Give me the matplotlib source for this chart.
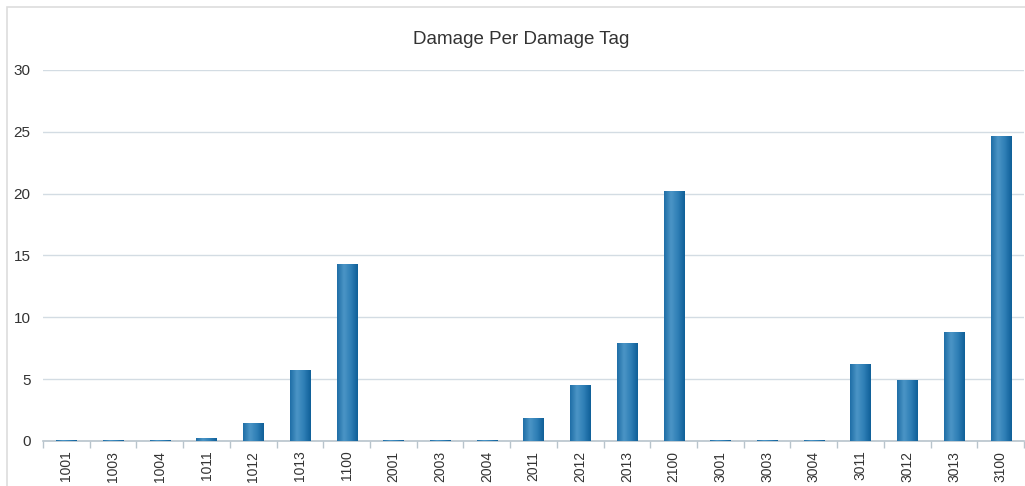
import numpy as np
import matplotlib.pyplot as plt
from matplotlib.patches import Rectangle
from matplotlib.colors import LinearSegmentedColormap

plt.rcParams['font.family'] = ['Liberation Sans', 'DejaVu Sans']

# Data
tags = ['1001', '1003', '1004', '1011', '1012', '1013', '1100', '2001', '2003', '2004',
        '2011', '2012', '2013', '2100', '3001', '3003', '3004', '3011', '3012', '3013', '3100']
damage = [0.05, 0.05, 0.05, 0.2, 1.4, 5.7, 14.3, 0.05, 0.05, 0.05,
          1.8, 4.5, 7.9, 20.2, 0.05, 0.05, 0.05, 6.2, 4.9, 8.8, 24.6]

fig = plt.figure(figsize=(10.25, 4.86), dpi=100)
ax = fig.add_axes([0.042, 0.0926, 0.957, 0.7634])

# outer border
fig.patches.append(Rectangle((0.007, -0.01), 1.0, 1.0 - 0.004, transform=fig.transFigure,
                             fill=False, edgecolor='#dddddd', linewidth=1.2))

x = np.arange(len(tags))
bars = ax.bar(x, damage, width=0.43, color='#2a7ab0', edgecolor='none', zorder=2)

# cylinder-like horizontal gradient on each bar
cmap = LinearSegmentedColormap.from_list('cyl', ['#1f6ea6', '#4b95c6', '#2f7fb6', '#0f5f98'])
grad = np.linspace(0, 1, 64).reshape(1, -1)
for b in bars:
    x0, y0 = b.get_x(), b.get_y()
    w, h = b.get_width(), b.get_height()
    ax.imshow(grad, cmap=cmap, aspect='auto', extent=(x0, x0 + w, y0, y0 + h),
              zorder=3, interpolation='bicubic')

ax.set_xlim(-0.5, len(tags) - 0.5)
ax.set_ylim(0, 30)
ax.set_yticks(range(0, 31, 5))
ax.set_xticks(x)
ax.set_xticklabels(tags, rotation=90, fontsize=10, color='#333333')
ax.set_xticks(np.arange(-0.5, len(tags), 1), minor=True)
ax.tick_params(axis='x', which='major', length=0, pad=7)
ax.tick_params(axis='x', which='minor', length=5, color='#b8c4cc', width=1)
ax.tick_params(axis='y', length=0, labelsize=11, labelcolor='#333333', pad=9)

ax.grid(axis='y', color='#d3dce3', linewidth=1, zorder=0)
ax.set_axisbelow(True)
for s in ['top', 'right', 'left']:
    ax.spines[s].set_visible(False)
ax.spines['bottom'].set_color('#b8c4cc')
ax.spines['bottom'].set_linewidth(1.2)

fig.text(0.508, 0.918, 'Damage Per Damage Tag', ha='center', va='center',
         fontsize=13.5, color='#333333')

fig.savefig('out.png', dpi=100)
